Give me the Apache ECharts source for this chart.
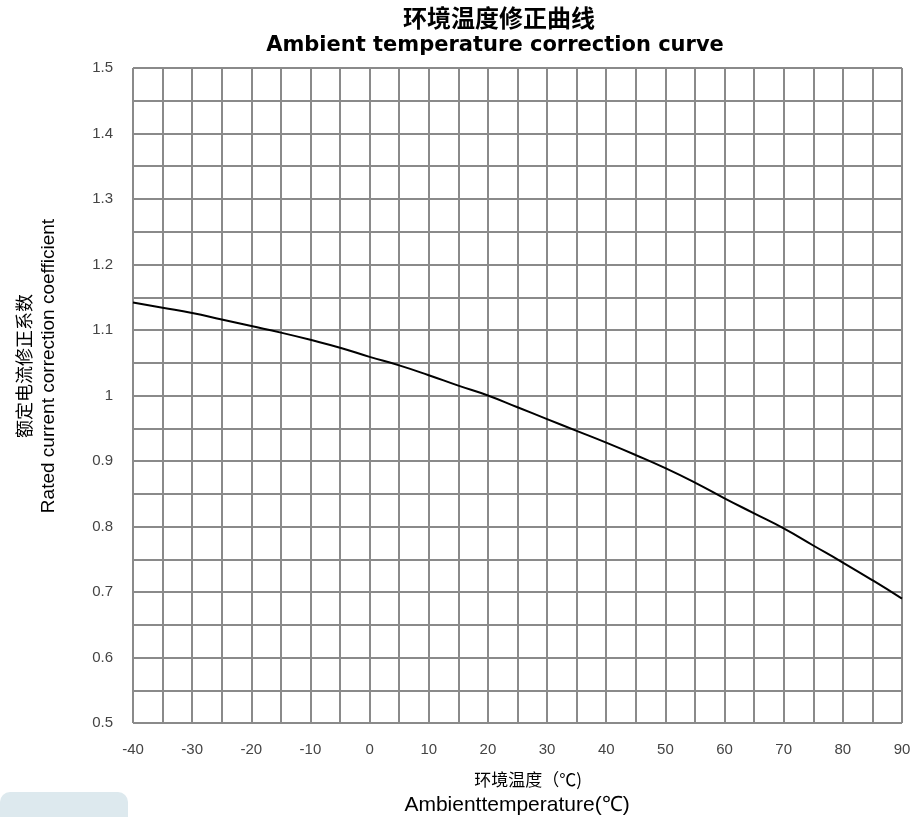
<!DOCTYPE html>
<html>
<head>
<meta charset="utf-8">
<script src="https://cdn.jsdelivr.net/npm/echarts@6/dist/echarts.min.js"></script>
<style>html,body{margin:0;padding:0;background:#fff}#c{width:914px;height:817px}</style>
</head>
<body>
<div id="c"></div>
<script>
const temperatures = [-40,-35,-30,-25,-20,-15,-10,-5,0,5,10,15,20,25,30,35,40,45,50,55,60,65,70,75,80,85,90];
const coefficients = [1.142,1.134,1.126,1.116,1.106,1.096,1.085,1.073,1.059,1.046,1.031,1.015,1.000,0.982,0.964,0.946,0.928,0.909,0.889,0.867,0.843,0.820,0.797,0.771,0.745,0.718,0.690];
const titleCN = '环境温度修正曲线';
const titleEN = 'Ambient temperature correction curve';
const xNameCN = '环境温度（℃)';
const xNameEN = 'Ambienttemperature(℃)';
const yNameCN = '额定电流修正系数';
const yNameEN = 'Rated current correction coefficient';

const labelFont = "'Liberation Sans', Arial, sans-serif";
const cjk = "'Noto Sans CJK SC', sans-serif";
function txt(text, x, y, font, rot) {
  return {
    type: 'text', x: x, y: y, rotation: rot || 0,
    style: {text: text, x: 0, y: 0, align: 'center', verticalAlign: 'middle', font: font, fill: '#000'}
  };
}
const chart = echarts.init(document.getElementById('c'));
chart.setOption({
  animation: false,
  grid: {left: 133, right: 12, top: 68, bottom: 94, containLabel: false, outerBoundsMode: 'none'},
  xAxis: {
    type: 'value', min: -40, max: 90, interval: 5,
    axisLine: {show: false}, axisTick: {show: false},
    splitLine: {show: true, lineStyle: {color: '#8a8a8a', width: 2}},
    axisLabel: {
      margin: 19, fontFamily: labelFont, fontSize: 15, color: '#444',
      formatter: v => (Math.round(v) % 10 === 0 ? String(Math.round(v)) : '')
    }
  },
  yAxis: {
    type: 'value', min: 0.5, max: 1.5, interval: 0.05,
    axisLine: {show: false}, axisTick: {show: false},
    splitLine: {show: true, lineStyle: {color: '#8a8a8a', width: 2}},
    axisLabel: {
      margin: 20, fontFamily: labelFont, fontSize: 15, color: '#444',
      formatter: v => (Math.round(v * 100) % 10 === 0 ? String(Math.round(v * 10) / 10) : '')
    }
  },
  graphic: [
    {type: 'rect', left: 0, top: 792, z: -1, shape: {width: 128, height: 40, r: 10}, style: {fill: '#dde9ee'}},
    txt(titleCN, 499, 18, "bold 24px " + cjk),
    txt(titleEN, 495, 46, "bold 21px 'DejaVu Sans', Verdana, sans-serif"),
    txt(xNameCN, 528, 780, "17px " + cjk),
    txt(xNameEN, 517, 805, "21px 'Liberation Sans', Arial, sans-serif"),
    txt(yNameCN, 24, 366, "18px " + cjk, Math.PI / 2),
    txt(yNameEN, 49, 366, "19px 'Liberation Sans', Arial, sans-serif", Math.PI / 2)
  ],
  series: [{
    type: 'line', smooth: true, symbol: 'none',
    data: temperatures.map((t, i) => [t, coefficients[i]]),
    lineStyle: {color: '#000', width: 2}
  }]
});
</script>
</body>
</html>
